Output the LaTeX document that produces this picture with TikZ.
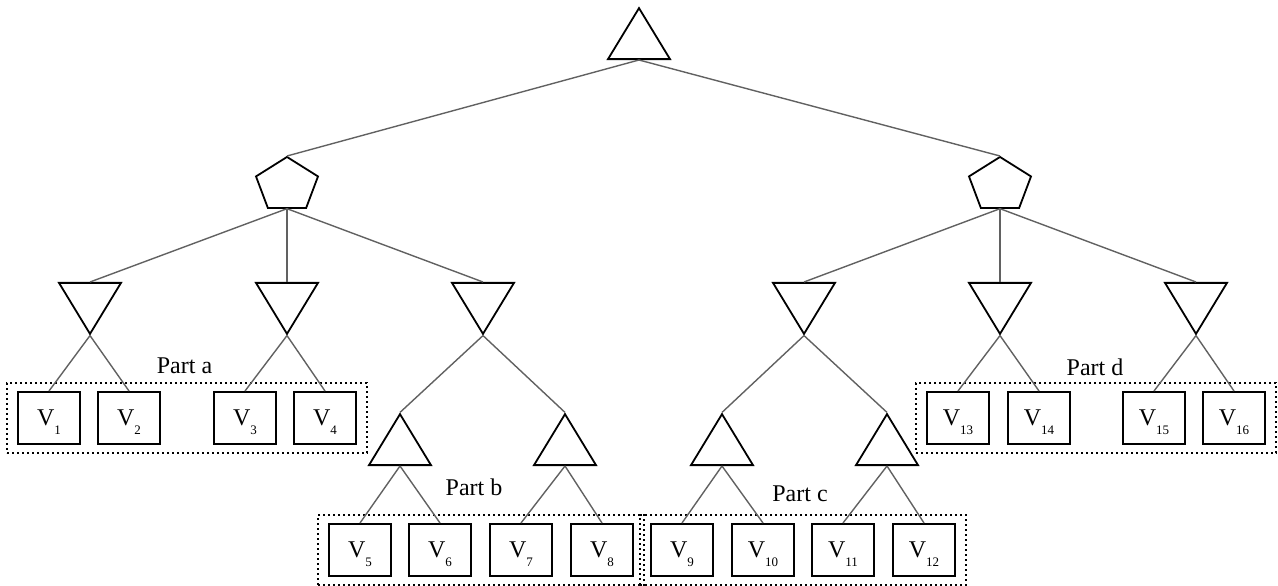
\documentclass[tikz,border=0pt]{standalone}
\usepackage{fontspec}
\setmainfont{Liberation Serif}
\usetikzlibrary{shapes.geometric,fit}
\newcommand{\vname}[1]{V\raisebox{-9pt}[0pt][0pt]{\fontsize{13}{13}\selectfont #1}}

\begin{document}
\begin{tikzpicture}[x=1pt,y=-1pt,
    uptri/.style ={regular polygon, regular polygon sides=3, draw, line width=1.8pt, inner sep=0pt, minimum size=71.6pt, yscale=0.95},
    downtri/.style ={uptri, shape border rotate=180},
    penta/.style ={regular polygon, regular polygon sides=5, draw, line width=1.8pt, inner sep=0pt, minimum size=65.2pt, yscale=0.864},
    leaf/.style ={rectangle, draw, line width=2pt, inner sep=0pt, minimum width=62pt, minimum height=52pt, font=\fontsize{24}{28}\selectfont},
    part/.style ={draw, line width=1.7pt, dash pattern=on 1.7pt off 3.3pt, inner xsep=10pt, inner ysep=8pt},
    partname/.style ={inner sep=0pt, font=\fontsize{24}{28}\selectfont},
    link/.style ={line width=1.4pt, black!62}]
   \useasboundingbox (0,0) rectangle (1278,586);

   \node[uptri, anchor=side 2] (root) at (639,60) {};
   \node[penta, anchor=corner 1] (PL) at (287,156) {};
   \node[penta, anchor=corner 1] (PR) at (1000,156) {};

   \node[downtri, anchor=side 2] (T1) at (90,282) {};
   \node[downtri, anchor=side 2] (T2) at (287,282) {};
   \node[downtri, anchor=side 2] (T3) at (483,282) {};
   \node[downtri, anchor=side 2] (T4) at (804,282) {};
   \node[downtri, anchor=side 2] (T5) at (1000,282) {};
   \node[downtri, anchor=side 2] (T6) at (1196,282) {};

   \node[uptri, anchor=side 2] (S1) at (400,466) {};
   \node[uptri, anchor=side 2] (S2) at (565,466) {};
   \node[uptri, anchor=side 2] (S3) at (722,466) {};
   \node[uptri, anchor=side 2] (S4) at (887,466) {};

   \node[leaf] (V1) at (49,418) {\vname{1}};
   \node[leaf] (V2) at (129,418) {\vname{2}};
   \node[leaf] (V3) at (245,418) {\vname{3}};
   \node[leaf] (V4) at (325,418) {\vname{4}};
   \node[leaf] (V5) at (360,550) {\vname{5}};
   \node[leaf] (V6) at (440,550) {\vname{6}};
   \node[leaf] (V7) at (521,550) {\vname{7}};
   \node[leaf] (V8) at (602,550) {\vname{8}};
   \node[leaf] (V9) at (682,550) {\vname{9}};
   \node[leaf] (V10) at (763,550) {\vname{10}};
   \node[leaf] (V11) at (843,550) {\vname{11}};
   \node[leaf] (V12) at (924,550) {\vname{12}};
   \node[leaf] (V13) at (958,418) {\vname{13}};
   \node[leaf] (V14) at (1039,418) {\vname{14}};
   \node[leaf] (V15) at (1154,418) {\vname{15}};
   \node[leaf] (V16) at (1234,418) {\vname{16}};

   \node[part, fit=(V1)(V4)] (partA) {};
   \node[part, fit=(V5)(V8)] (partB) {};
   \node[part, fit=(V9)(V12)] (partC) {};
   \node[part, fit=(V13)(V16)] (partD) {};

   \node[partname] (labelA) at (184.5,366) {Part a};
   \node[partname] (labelB) at (474,487) {Part b};
   \node[partname] (labelC) at (800,494) {Part c};
   \node[partname] (labelD) at (1095,367) {Part d};

   \draw[link] (root.side 2) -- (PL.corner 1);
   \draw[link] (root.side 2) -- (PR.corner 1);
   \draw[link] (PL.side 3) -- (T1.side 2);
   \draw[link] (PL.side 3) -- (T2.side 2);
   \draw[link] (PL.side 3) -- (T3.side 2);
   \draw[link] (PR.side 3) -- (T4.side 2);
   \draw[link] (PR.side 3) -- (T5.side 2);
   \draw[link] (PR.side 3) -- (T6.side 2);

   \draw[link] (T1.corner 1) -- (V1.north);
   \draw[link] (T1.corner 1) -- (V2.north);
   \draw[link] (T2.corner 1) -- (V3.north);
   \draw[link] (T2.corner 1) -- (V4.north);
   \draw[link] (T3.corner 1) -- (S1.corner 1);
   \draw[link] (T3.corner 1) -- (S2.corner 1);
   \draw[link] (T4.corner 1) -- (S3.corner 1);
   \draw[link] (T4.corner 1) -- (S4.corner 1);
   \draw[link] (T5.corner 1) -- (V13.north);
   \draw[link] (T5.corner 1) -- (V14.north);
   \draw[link] (T6.corner 1) -- (V15.north);
   \draw[link] (T6.corner 1) -- (V16.north);

   \draw[link] (S1.side 2) -- (V5.north);
   \draw[link] (S1.side 2) -- (V6.north);
   \draw[link] (S2.side 2) -- (V7.north);
   \draw[link] (S2.side 2) -- (V8.north);
   \draw[link] (S3.side 2) -- (V9.north);
   \draw[link] (S3.side 2) -- (V10.north);
   \draw[link] (S4.side 2) -- (V11.north);
   \draw[link] (S4.side 2) -- (V12.north);
 \end{tikzpicture}
\end{document}
